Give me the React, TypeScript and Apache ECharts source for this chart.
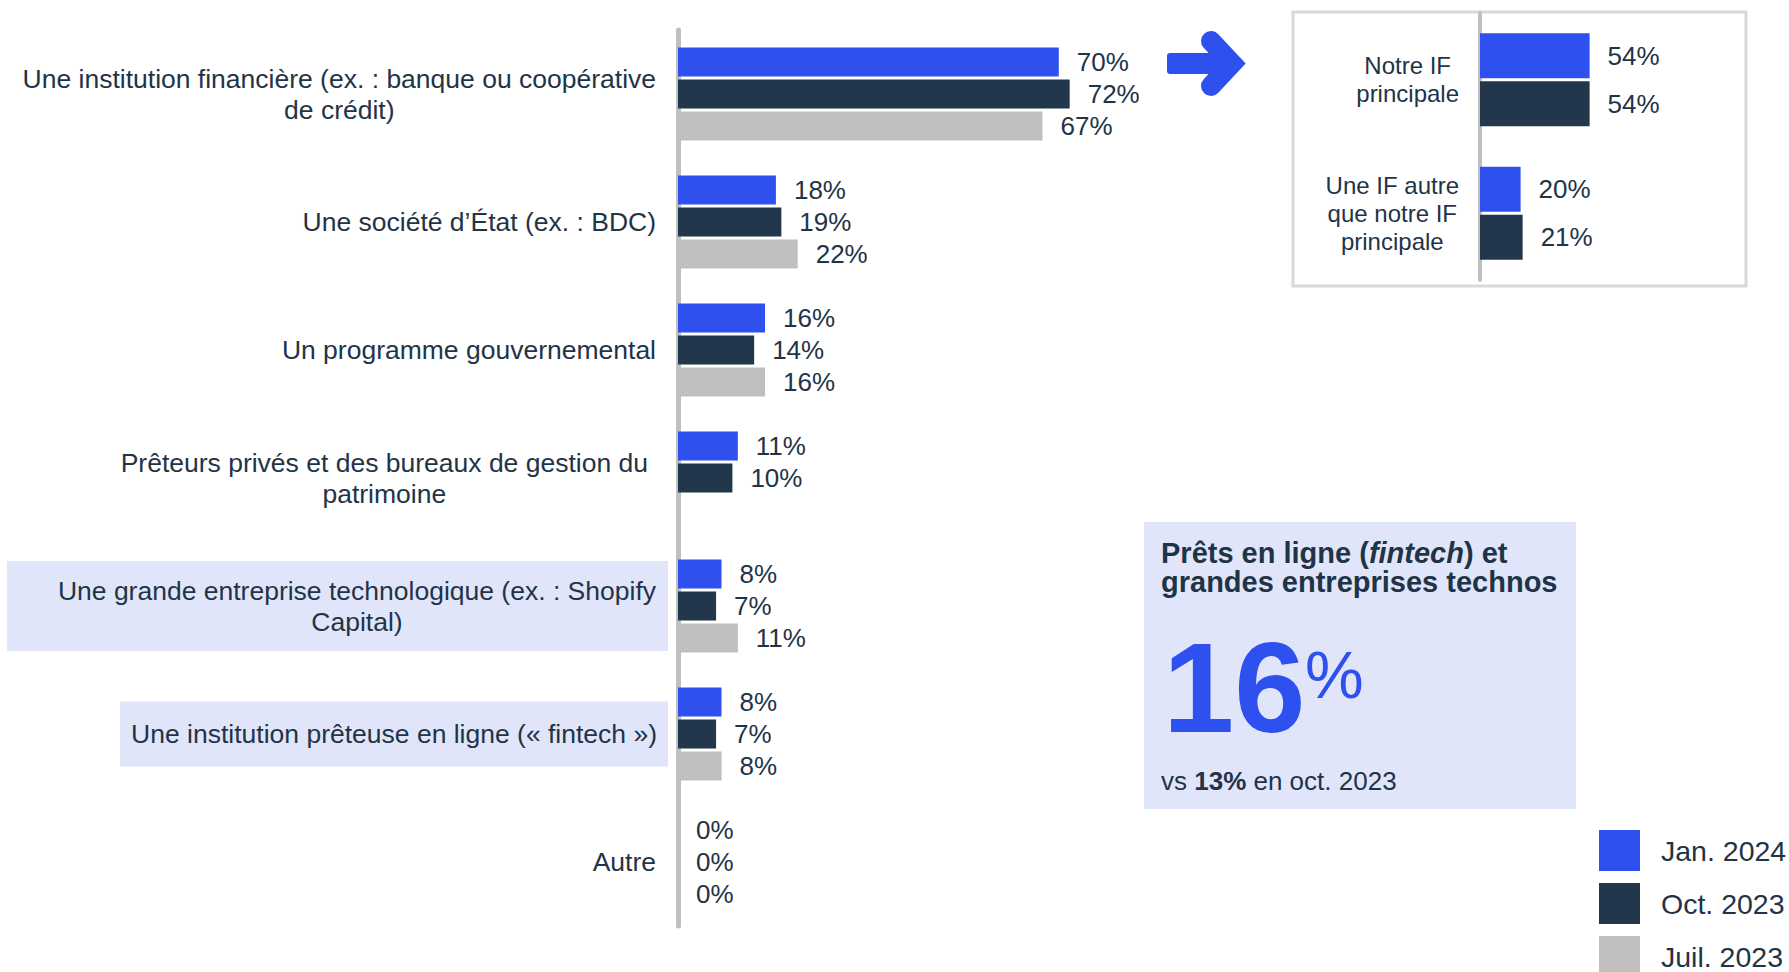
import React, { useEffect, useRef } from "react";
import * as echarts from "echarts";

const categories = [
  "Une institution financière (ex. : banque ou coopérative\nde crédit)",
  "Une société d’État (ex. : BDC)",
  "Un programme gouvernemental",
  "Prêteurs privés et des bureaux de gestion du\npatrimoine",
  "Une grande entreprise technologique (ex. : Shopify\nCapital)",
  "Une institution prêteuse en ligne (« fintech »)",
  "Autre",
];
const highlighted = [4, 5];
const seriesNames = ["Jan. 2024", "Oct. 2023", "Juil. 2023"];
const jan2024 = [70, 18, 16, 11, 8, 8, 0];
const oct2023 = [72, 19, 14, 10, 7, 7, 0];
const juil2023 = [67, 22, 16, null, 11, 8, 0];

const insetCategories = ["Notre IF\nprincipale", "Une IF autre\nque notre IF\nprincipale"];
const insetJan2024 = [54, 20];
const insetOct2023 = [54, 21];

const BLUE = "#2E50EE";
const DARK = "#22374C";
const GRAY = "#BFBFBF";
const TXT = "#1F3447";
const LAV = "#E1E5FA";
const FONT = "'Liberation Sans', Arial, Helvetica, sans-serif";

const centered = (v: string) =>
  v
    .split("\n")
    .map((l) => `{c|${l}}`)
    .join("\n");

export default function App() {
  const ref = useRef<HTMLDivElement>(null);
  useEffect(() => {
    document.body.style.margin = "0";
    const chart = echarts.init(ref.current!, null, { renderer: "svg" });
    const mainLabel = {
      show: true,
      position: "right",
      distance: 18,
      formatter: "{c}%",
      fontSize: 26,
      color: TXT,
      fontFamily: FONT,
    };
    const insetLabel = { ...mainLabel, fontSize: 26, distance: 18 };
    const padFor = (i: number) =>
      i === 4 ? [14, 12, 14, 51] : i === 5 ? [17, 11, 17, 11] : i === 3 ? [0, 20, 0, 0] : [0, 12, 0, 0];
    chart.setOption({
      animation: false,
      textStyle: { fontFamily: FONT },
      legend: {
        data: seriesNames,
        orient: "vertical",
        left: 1599,
        top: 830,
        height: 300,
        padding: 0,
        itemWidth: 41,
        itemHeight: 41,
        itemGap: 12,
        icon: "rect",
        selectedMode: false,
        textStyle: { fontSize: 28.5, color: TXT, fontFamily: FONT, padding: [0, 0, 0, 16] },
      },
      grid: [
        { left: 678, top: 30, width: 544, height: 896 },
        { left: 1480, top: 13, width: 203, height: 267 },
      ],
      xAxis: [
        { type: "value", gridIndex: 0, min: 0, max: 100, show: false },
        { type: "value", gridIndex: 1, min: 0, max: 100, show: false },
      ],
      yAxis: [
        {
          type: "category",
          gridIndex: 0,
          inverse: true,
          data: categories.map((c, i) => ({
            value: c,
            textStyle: {
              padding: padFor(i),
              backgroundColor: highlighted.includes(i) ? LAV : "transparent",
            },
          })),
          axisLine: { show: true, lineStyle: { color: GRAY, width: 5 } },
          axisTick: { show: false },
          splitLine: { show: false },
          axisLabel: {
            margin: 10,
            fontSize: 26.5,
            lineHeight: 31,
            color: TXT,
            fontFamily: FONT,
            formatter: centered,
            rich: {
              c: { align: "center", fontSize: 26.5, lineHeight: 31, color: TXT, fontFamily: FONT },
            },
          },
        },
        {
          type: "category",
          gridIndex: 1,
          inverse: true,
          data: insetCategories,
          axisLine: { show: true, lineStyle: { color: GRAY, width: 4 } },
          axisTick: { show: false },
          splitLine: { show: false },
          axisLabel: {
            margin: 21,
            fontSize: 24,
            lineHeight: 28,
            color: TXT,
            fontFamily: FONT,
            formatter: centered,
            rich: {
              c: { align: "center", fontSize: 24, lineHeight: 28, color: TXT, fontFamily: FONT },
            },
          },
        },
      ],
      series: [
        { type: "bar", name: seriesNames[0], xAxisIndex: 0, yAxisIndex: 0, data: jan2024, barWidth: 29, barGap: "10%", itemStyle: { color: BLUE }, label: mainLabel },
        { type: "bar", name: seriesNames[1], xAxisIndex: 0, yAxisIndex: 0, data: oct2023, barWidth: 29, barGap: "10%", itemStyle: { color: DARK }, label: mainLabel },
        { type: "bar", name: seriesNames[2], xAxisIndex: 0, yAxisIndex: 0, data: juil2023, barWidth: 29, barGap: "10%", itemStyle: { color: GRAY }, label: mainLabel },
        { type: "bar", name: seriesNames[0], xAxisIndex: 1, yAxisIndex: 1, data: insetJan2024, barWidth: 45, barGap: "7%", itemStyle: { color: BLUE }, label: insetLabel },
        { type: "bar", name: seriesNames[1], xAxisIndex: 1, yAxisIndex: 1, data: insetOct2023, barWidth: 45, barGap: "7%", itemStyle: { color: DARK }, label: insetLabel },
      ],
      graphic: [
        // inset border
        { type: "rect", shape: { x: 1293, y: 12, width: 453, height: 274 }, style: { fill: "none", stroke: "#D9D9D9", lineWidth: 3 }, z: 0 },
        // arrow
        { type: "rect", shape: { x: 1167, y: 53, width: 56, height: 21, r: 3 }, style: { fill: BLUE } },
        { type: "polyline", shape: { points: [[1211, 41], [1232, 63.5], [1211, 86]] }, style: { stroke: BLUE, lineWidth: 20, lineCap: "round", lineJoin: "miter", fill: "none" } },
        // callout box
        { type: "rect", shape: { x: 1144, y: 522, width: 432, height: 287 }, style: { fill: LAV }, z: 0 },
        {
          type: "text",
          x: 1161,
          y: 538,
          style: {
            text: "{b|Prêts en ligne (}{bi|fintech}{b|) et}\n{b|grandes entreprises technos}",
            verticalAlign: "top",
            align: "left",
            rich: {
              b: { fontSize: 29, fontWeight: "bold", fill: TXT, fontFamily: FONT, lineHeight: 29 },
              bi: { fontSize: 29, fontWeight: "bold", fontStyle: "italic", fill: TXT, fontFamily: FONT, lineHeight: 29 },
            },
          },
        },
        {
          type: "text",
          x: 1163,
          y: 687,
          style: { text: "16", fontSize: 128, fontWeight: "bold", fill: BLUE, fontFamily: FONT, verticalAlign: "middle", align: "left" },
        },
        {
          type: "text",
          x: 1305,
          y: 675,
          style: { text: "%", fontSize: 66, fill: BLUE, fontFamily: FONT, verticalAlign: "middle", align: "left" },
        },
        {
          type: "text",
          x: 1161,
          y: 781,
          style: {
            text: "{r|vs }{b|13%}{r| en oct. 2023}",
            verticalAlign: "middle",
            align: "left",
            rich: {
              r: { fontSize: 26, fill: TXT, fontFamily: FONT },
              b: { fontSize: 26, fontWeight: "bold", fill: TXT, fontFamily: FONT },
            },
          },
        },
      ],
    });
    return () => chart.dispose();
  }, []);
  return <div ref={ref} style={{ width: 1789, height: 972 }} />;
}
